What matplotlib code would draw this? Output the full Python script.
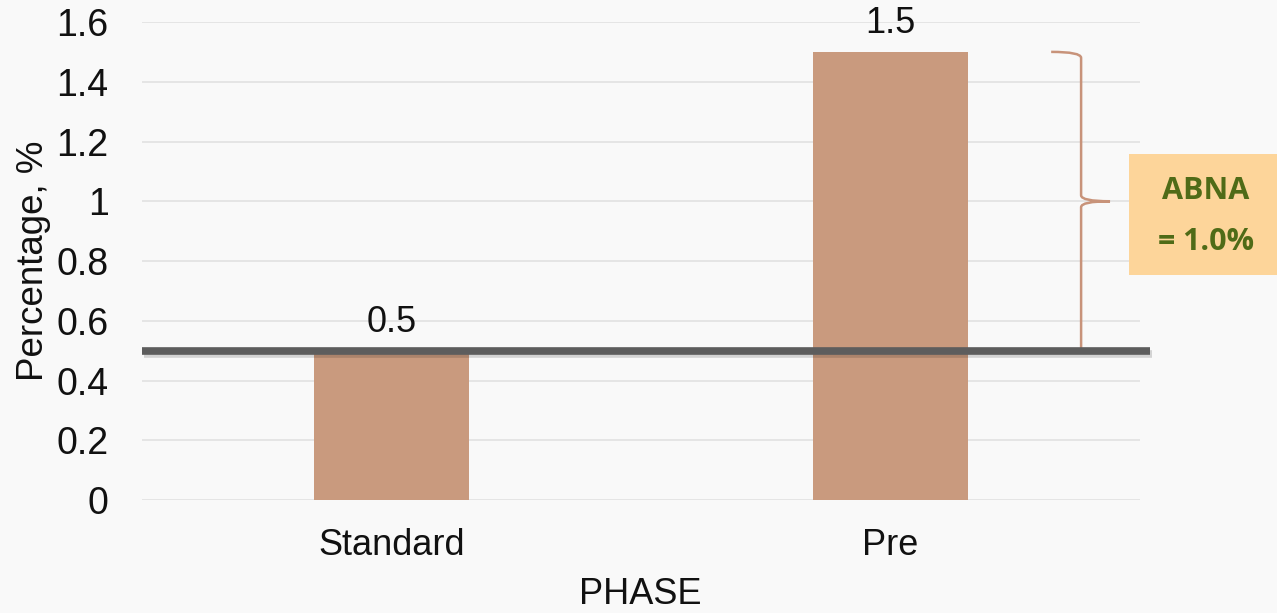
import numpy as np
import matplotlib
matplotlib.use("Agg")
import matplotlib.pyplot as plt
import matplotlib.patheffects as pe
from matplotlib.path import Path
from matplotlib.patches import PathPatch, Rectangle

# Percentage by phase
PHASES = ["Standard", "Pre"]
VALUES = [0.5, 1.5]
BASELINE = 0.5
ABNA_LABEL = ["ABNA", "= 1.0%"]

BG = "#f9f9f9"
BAR_CLR = "#c99a7e"
LINE_CLR = "#5d5d5d"
BRACE_CLR = "#c8937a"
BOX_CLR = "#fdd59a"
TXT_GREEN = "#4f6b17"
TXT_CLR = "#111111"

plt.rcParams["font.family"] = ["Liberation Sans", "DejaVu Sans"]


def draw_brace(ax, x_arm, x_mid, x_tip, y_top, y_bot, d=0.02):
    # Curly brace pointing right, spanning y_bot..y_top
    y_c = (y_top + y_bot) / 2
    verts = [
        (x_arm, y_top),
        (x_mid, y_top), (x_mid, y_top - d),
        (x_mid, y_c + d),
        (x_mid, y_c), (x_tip, y_c),
        (x_mid, y_c), (x_mid, y_c - d),
        (x_mid, y_bot),
    ]
    codes = [
        Path.MOVETO,
        Path.CURVE3, Path.CURVE3,
        Path.LINETO,
        Path.CURVE3, Path.CURVE3,
        Path.CURVE3, Path.CURVE3,
        Path.LINETO,
    ]
    patch = PathPatch(Path(verts, codes), facecolor="none", edgecolor=BRACE_CLR,
                      linewidth=1.8, clip_on=False, zorder=4)
    ax.add_patch(patch)


fig = plt.figure(figsize=(12.77, 6.13), dpi=100, facecolor=BG)
ax = fig.add_axes([0.1112, 0.1843, 0.7815, 0.7798])
ax.set_facecolor(BG)

x = np.arange(len(PHASES))
ax.bar(x, VALUES, width=0.3125, color=BAR_CLR, zorder=2)

# Baseline across the plot
ax.plot([-0.5, 1.52], [BASELINE, BASELINE], color=LINE_CLR, linewidth=5.5,
        solid_capstyle="butt", clip_on=False, zorder=5,
        path_effects=[pe.SimpleLineShadow(offset=(1.5, -2.5), shadow_color="k", alpha=0.15),
                      pe.Normal()])

# Value labels
label_y = [max(v, BASELINE) for v in VALUES]
for xi, v, ly in zip(x, VALUES, label_y):
    ax.annotate(f"{v:g}", (xi, ly), xytext=(0, 8), textcoords="offset points",
                ha="center", va="bottom", fontsize=26, color=TXT_CLR)

# Brace showing the difference between the Pre bar and the baseline
draw_brace(ax, 1.322, 1.382, 1.44, VALUES[1], BASELINE)

ax.set_xlim(-0.5, 1.5)
ax.set_ylim(0, 1.6)
yticks = np.arange(0, 1.61, 0.2).round(1)
ax.set_yticks(yticks)
ax.set_yticklabels([f"{t:g}" for t in yticks])
ax.set_xticks(x)
ax.set_xticklabels(PHASES)
ax.yaxis.grid(True, color="#e3e3e3", linewidth=1.3, zorder=0)
ax.set_axisbelow(True)
for s in ax.spines.values():
    s.set_visible(False)
ax.tick_params(axis="both", length=0, colors=TXT_CLR)
ax.tick_params(axis="y", pad=24, labelsize=27)
ax.tick_params(axis="x", pad=20, labelsize=26)
ax.set_ylabel("Percentage, %", fontsize=26.5, color=TXT_CLR)
ax.set_xlabel("PHASE", fontsize=26, color=TXT_CLR)
ax.yaxis.set_label_coords(-0.091, 0.5)
ax.xaxis.set_label_coords(0.499, -0.161)

# ABNA callout box
fig.patches.append(Rectangle((0.884, 0.552), 0.116, 0.197, transform=fig.transFigure,
                             facecolor=BOX_CLR, edgecolor="none", zorder=1))
fig.text(0.9444, 0.689, ABNA_LABEL[0], ha="center", va="center", fontsize=22,
         fontweight="bold", family="Open Sans", color=TXT_GREEN)
fig.text(0.9444, 0.606, ABNA_LABEL[1], ha="center", va="center", fontsize=22,
         fontweight="bold", family="Open Sans", color=TXT_GREEN)

fig.savefig("out.png", dpi=100, facecolor=BG)
